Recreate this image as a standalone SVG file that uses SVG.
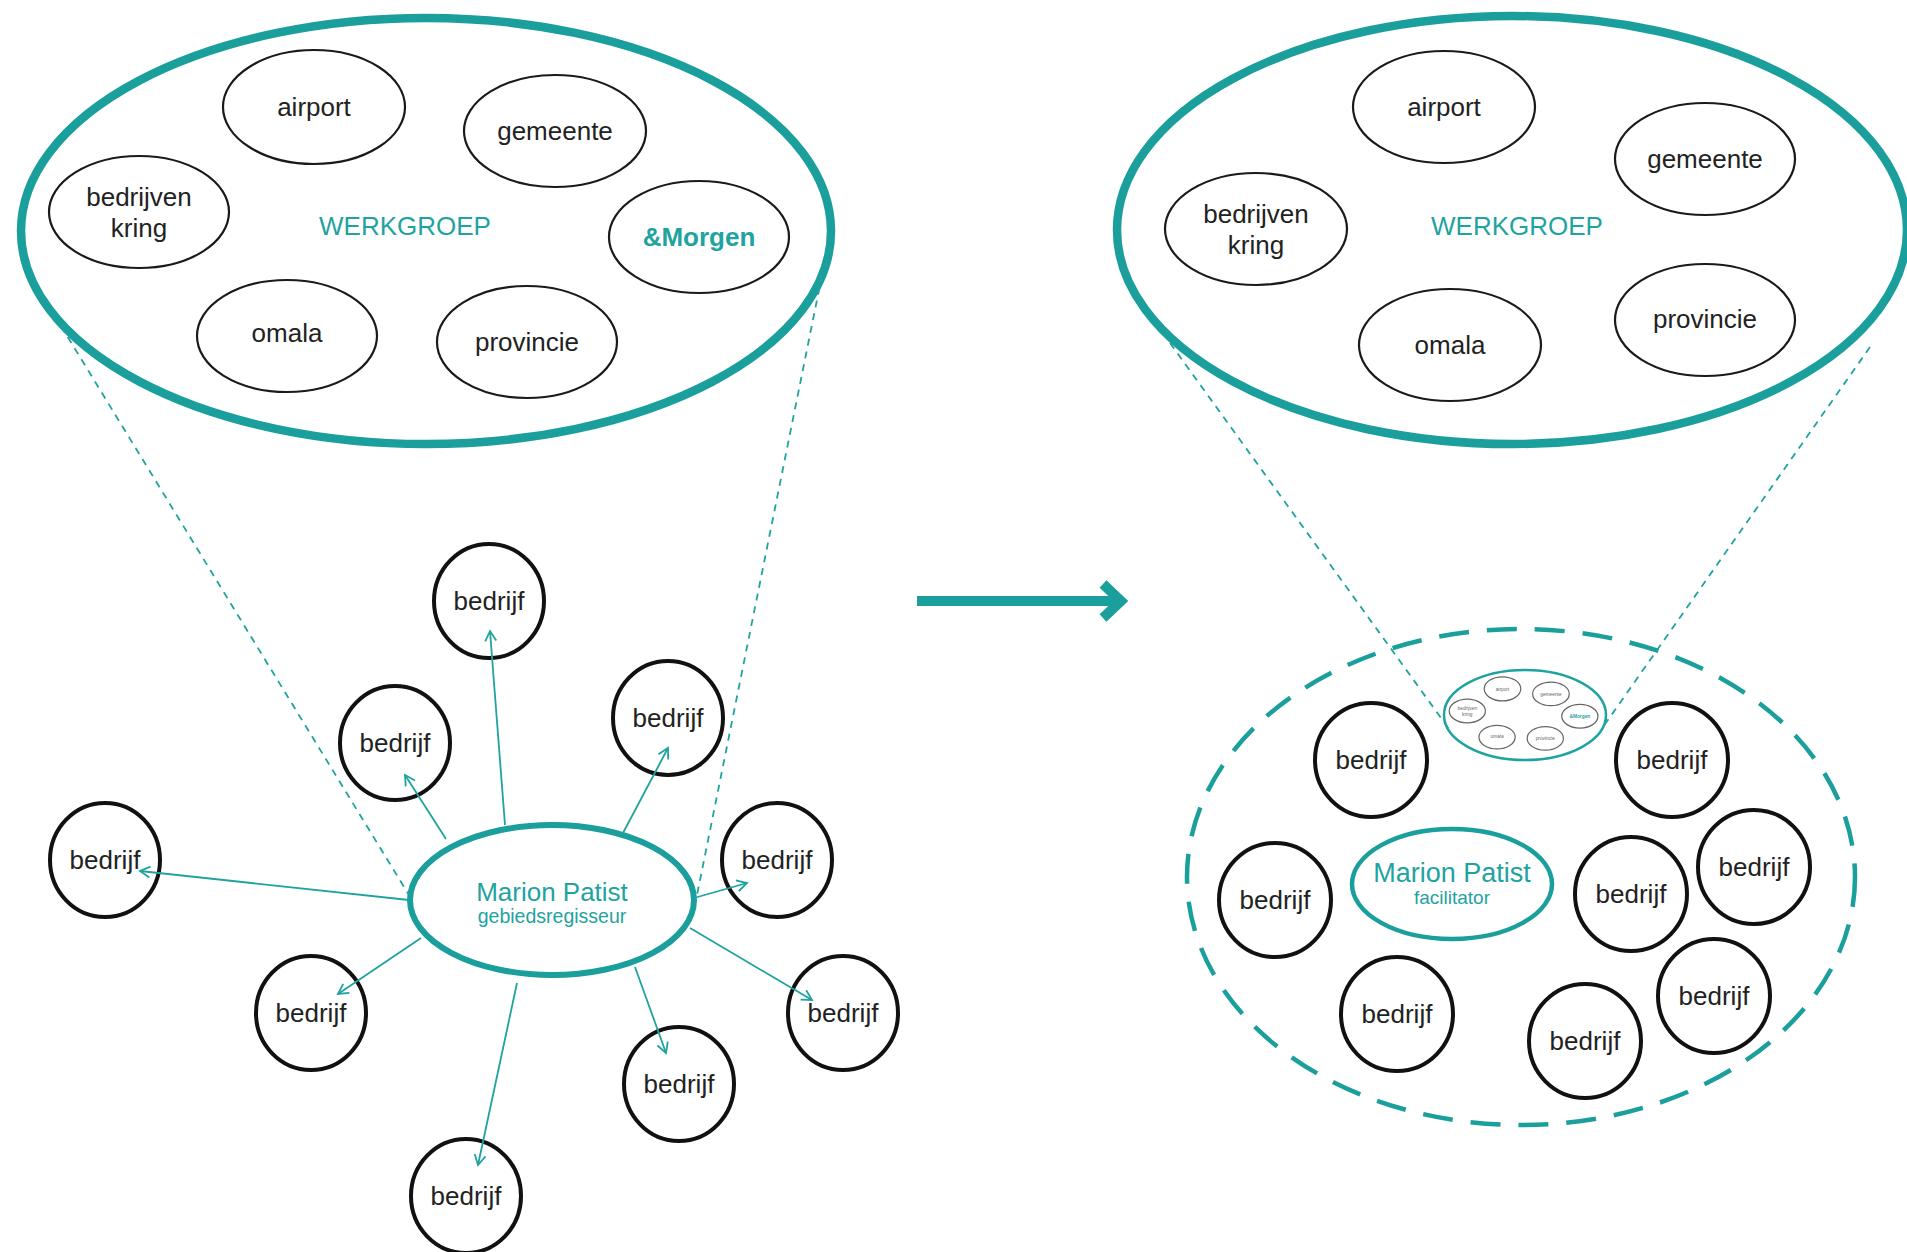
<svg xmlns="http://www.w3.org/2000/svg" width="1907" height="1252" viewBox="0 0 1907 1252">
<style>
text{font-family:"Liberation Sans",Arial,sans-serif;text-anchor:middle}
.m{fill:#fff;stroke:#1a1a1a;stroke-width:2.2}
.b{fill:#fff;stroke:#111;stroke-width:4}
.t{font-size:26px;fill:#222}
.tl{fill:#1fa39f}
.ring{fill:none;stroke:#1a9f9c;stroke-width:8.5}
.proj{fill:none;stroke:#1fa39f;stroke-width:1.8;stroke-dasharray:7 6}
.arr{fill:none;stroke:#1fa39f;stroke-width:1.8;marker-end:url(#ah)}
.mm{fill:#fff;stroke:#666;stroke-width:6}
.mt{font-size:24px;fill:#666}
</style>
<defs>
<marker id="ah" viewBox="0 0 14 14" refX="12" refY="7" markerWidth="14" markerHeight="14" markerUnits="userSpaceOnUse" orient="auto">
<path d="M2,1.5 L12,7 L2,12.5" fill="none" stroke="#1fa39f" stroke-width="1.8"/>
</marker>
</defs>
<rect width="1907" height="1252" fill="#fff"/>

<g id="werkgroep-left">
<ellipse class="ring" cx="426" cy="231" rx="405" ry="213"/>
<text class="t tl" x="405" y="235">WERKGROEP</text>
<g id="l-airport"><ellipse class="m" cx="314" cy="107" rx="91" ry="57"/><text class="t" x="314" y="116">airport</text></g>
<g id="l-gemeente"><ellipse class="m" cx="555" cy="131" rx="91" ry="56"/><text class="t" x="555" y="140">gemeente</text></g>
<g id="l-kring"><ellipse class="m" cx="139" cy="212" rx="90" ry="56"/><text class="t" x="139" y="206">bedrijven</text><text class="t" x="139" y="237">kring</text></g>
<g id="l-morgen"><ellipse class="m" cx="699" cy="237" rx="90" ry="56"/><text class="t tl" x="699" y="246" font-weight="bold">&amp;Morgen</text></g>
<g id="l-omala"><ellipse class="m" cx="287" cy="336" rx="90" ry="56"/><text class="t" x="287" y="342">omala</text></g>
<g id="l-provincie"><ellipse class="m" cx="527" cy="342" rx="90" ry="56"/><text class="t" x="527" y="351">provincie</text></g>
</g>

<g id="werkgroep-right">
<ellipse class="ring" cx="1512" cy="230" rx="395" ry="214"/>
<text class="t tl" x="1517" y="235">WERKGROEP</text>
<g id="r-airport"><ellipse class="m" cx="1444" cy="107" rx="91" ry="56"/><text class="t" x="1444" y="116">airport</text></g>
<g id="r-gemeente"><ellipse class="m" cx="1705" cy="159" rx="90" ry="56"/><text class="t" x="1705" y="168">gemeente</text></g>
<g id="r-kring"><ellipse class="m" cx="1256" cy="229" rx="91" ry="56"/><text class="t" x="1256" y="223">bedrijven</text><text class="t" x="1256" y="254">kring</text></g>
<g id="r-omala"><ellipse class="m" cx="1450" cy="345" rx="91" ry="56"/><text class="t" x="1450" y="354">omala</text></g>
<g id="r-provincie"><ellipse class="m" cx="1705" cy="320" rx="90" ry="56"/><text class="t" x="1705" y="328">provincie</text></g>
</g>

<g id="marion-left">
<ellipse fill="#fff" stroke="#1a9f9c" stroke-width="6" cx="552" cy="900" rx="142" ry="75"/>
<text class="tl" x="552" y="901" font-size="26">Marion Patist</text>
<text class="tl" x="552" y="923" font-size="19.5">gebiedsregisseur</text>
</g>

<g id="left-bedrijf">
<g id="lb1"><ellipse class="b" cx="489" cy="601" rx="55" ry="57"/><text class="t" x="489" y="610">bedrijf</text></g>
<g id="lb2"><ellipse class="b" cx="395" cy="743" rx="55" ry="57"/><text class="t" x="395" y="752">bedrijf</text></g>
<g id="lb3"><ellipse class="b" cx="668" cy="718" rx="55" ry="57"/><text class="t" x="668" y="727">bedrijf</text></g>
<g id="lb4"><ellipse class="b" cx="105" cy="860" rx="55" ry="57"/><text class="t" x="105" y="869">bedrijf</text></g>
<g id="lb5"><ellipse class="b" cx="777" cy="860" rx="55" ry="57"/><text class="t" x="777" y="869">bedrijf</text></g>
<g id="lb6"><ellipse class="b" cx="311" cy="1013" rx="55" ry="57"/><text class="t" x="311" y="1022">bedrijf</text></g>
<g id="lb7"><ellipse class="b" cx="843" cy="1013" rx="55" ry="57"/><text class="t" x="843" y="1022">bedrijf</text></g>
<g id="lb8"><ellipse class="b" cx="679" cy="1084" rx="55" ry="57"/><text class="t" x="679" y="1093">bedrijf</text></g>
<g id="lb9"><ellipse class="b" cx="466" cy="1196" rx="55" ry="57"/><text class="t" x="466" y="1205">bedrijf</text></g>
</g>

<g id="community">
<ellipse fill="none" stroke="#1a9f9c" stroke-width="4.5" stroke-dasharray="30 18" cx="1521" cy="877" rx="334" ry="248"/>
</g>

<g id="mini-werkgroep">
<ellipse fill="#fff" stroke="#1fa39f" stroke-width="2.5" cx="1525" cy="715" rx="81" ry="45"/>
<g transform="translate(1525,715) scale(0.201,0.211) translate(-426,-231)">
<ellipse class="mm" cx="314" cy="107" rx="91" ry="57"/><text class="mt" x="314" y="116">airport</text>
<ellipse class="mm" cx="555" cy="131" rx="91" ry="56"/><text class="mt" x="555" y="140">gemeente</text>
<ellipse class="mm" cx="139" cy="212" rx="90" ry="56"/><text class="mt" x="139" y="206">bedrijven</text><text class="mt" x="139" y="237">kring</text>
<ellipse class="mm" cx="699" cy="237" rx="90" ry="56"/><text class="mt" x="699" y="246" font-weight="bold" style="fill:#1fa39f">&amp;Morgen</text>
<ellipse class="mm" cx="287" cy="336" rx="90" ry="56"/><text class="mt" x="287" y="342">omala</text>
<ellipse class="mm" cx="527" cy="342" rx="90" ry="56"/><text class="mt" x="527" y="351">provincie</text>
</g>
</g>

<g id="marion-right">
<ellipse fill="#fff" stroke="#1a9f9c" stroke-width="4.5" cx="1452" cy="884" rx="100" ry="55"/>
<text class="tl" x="1452" y="882" font-size="27">Marion Patist</text>
<text class="tl" x="1452" y="904" font-size="19">facilitator</text>
</g>

<g id="right-bedrijf">
<g id="rb1"><ellipse class="b" cx="1371" cy="760" rx="56" ry="57"/><text class="t" x="1371" y="769">bedrijf</text></g>
<g id="rb2"><ellipse class="b" cx="1672" cy="760" rx="56" ry="57"/><text class="t" x="1672" y="769">bedrijf</text></g>
<g id="rb3"><ellipse class="b" cx="1275" cy="900" rx="56" ry="57"/><text class="t" x="1275" y="909">bedrijf</text></g>
<g id="rb4"><ellipse class="b" cx="1631" cy="894" rx="56" ry="57"/><text class="t" x="1631" y="903">bedrijf</text></g>
<g id="rb5"><ellipse class="b" cx="1754" cy="867" rx="56" ry="57"/><text class="t" x="1754" y="876">bedrijf</text></g>
<g id="rb6"><ellipse class="b" cx="1397" cy="1014" rx="56" ry="57"/><text class="t" x="1397" y="1023">bedrijf</text></g>
<g id="rb7"><ellipse class="b" cx="1585" cy="1041" rx="56" ry="57"/><text class="t" x="1585" y="1050">bedrijf</text></g>
<g id="rb8"><ellipse class="b" cx="1714" cy="996" rx="56" ry="57"/><text class="t" x="1714" y="1005">bedrijf</text></g>
</g>

<g id="connectors">
<line class="proj" x1="61" y1="326" x2="409" y2="895"/>
<line class="proj" x1="822" y1="275" x2="697" y2="895"/>
<line class="proj" x1="1170" y1="343" x2="1449" y2="729"/>
<line class="proj" x1="1870" y1="347" x2="1603" y2="727"/>
<line class="arr" x1="505" y1="825" x2="490" y2="631"/>
<line class="arr" x1="446" y1="839" x2="405" y2="775"/>
<line class="arr" x1="623" y1="833" x2="668" y2="748"/>
<line class="arr" x1="409" y1="900" x2="140" y2="871"/>
<line class="arr" x1="694" y1="898" x2="747" y2="883"/>
<line class="arr" x1="421" y1="938" x2="338" y2="994"/>
<line class="arr" x1="690" y1="928" x2="812" y2="1000"/>
<line class="arr" x1="635" y1="967" x2="666" y2="1053"/>
<line class="arr" x1="517" y1="983" x2="478" y2="1165"/>
<g id="main-arrow" fill="none" stroke="#1a9f9c" stroke-width="10">
<line x1="917" y1="601" x2="1120" y2="601"/>
<polyline points="1103,584 1121,601 1103,618" stroke-linejoin="miter"/>
</g>
</g>
</svg>
